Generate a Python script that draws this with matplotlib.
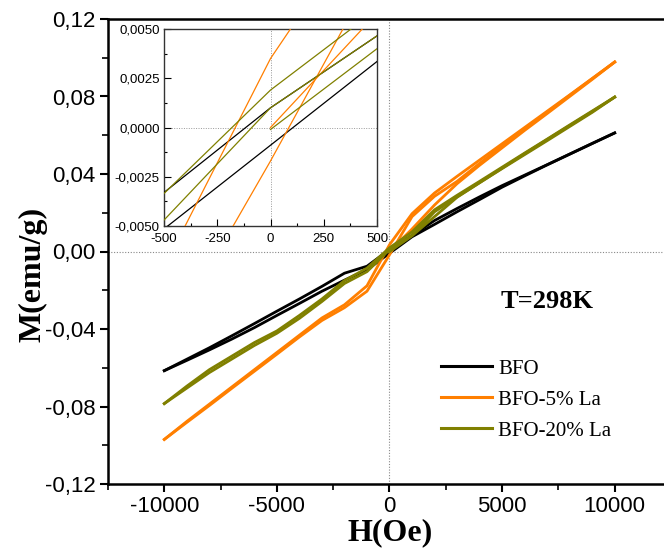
import matplotlib
matplotlib.use("Agg")
import matplotlib.pyplot as plt
from matplotlib.ticker import FixedLocator, FuncFormatter
from matplotlib.lines import Line2D

plt.rcParams["axes.unicode_minus"] = False
plt.rcParams["font.family"] = ["Liberation Sans", "DejaVu Sans"]

# Applied field (Oe) for each branch of the M-H loop
field_down = [10000, 9000, 8000, 7000, 6000, 5000, 4000, 3000, 2000, 1000, 0,
              -1000, -2000, -3000, -4000, -5000, -6000, -7000, -8000, -9000, -10000]
field_up = [-10000, -9000, -8000, -7000, -6000, -5000, -4000, -3000, -2000, -1000, 0,
            1000, 2000, 3000, 4000, 5000, 6000, 7000, 8000, 9000, 10000]
field_virgin = [0, 1000, 2000, 3000, 4000, 5000, 6000, 7000, 8000, 9000, 10000]

# Magnetization (emu/g)
bfo_down = [0.0612, 0.0558, 0.0503, 0.0448, 0.0394, 0.0340, 0.0282, 0.0222, 0.0160, 0.0083, 0.0010,
            -0.0076, -0.0112, -0.0180, -0.0245, -0.0308, -0.0372, -0.0435, -0.0497, -0.0556, -0.0615]
bfo_up = [-0.0615, -0.0562, -0.0508, -0.0452, -0.0393, -0.0330, -0.0268, -0.0205, -0.0148, -0.0094, -0.0009,
          0.0076, 0.0140, 0.0205, 0.0268, 0.0332, 0.0390, 0.0447, 0.0502, 0.0557, 0.0612]

la5_down = [0.0978, 0.0893, 0.0808, 0.0724, 0.0640, 0.0556, 0.0472, 0.0388, 0.0302, 0.0195, 0.0035,
            -0.0177, -0.0275, -0.0343, -0.0432, -0.0521, -0.0610, -0.0699, -0.0788, -0.0877, -0.0970]
la5_up = [-0.0970, -0.0882, -0.0795, -0.0706, -0.0618, -0.0530, -0.0441, -0.0356, -0.0290, -0.0205, -0.0017,
          0.0180, 0.0285, 0.0362, 0.0455, 0.0545, 0.0632, 0.0718, 0.0806, 0.0892, 0.0978]
la5_virgin = [0.0, 0.0116, 0.0240, 0.0350, 0.0445, 0.0535, 0.0625, 0.0712, 0.0800, 0.0888, 0.0978]

la20_down = [0.0797, 0.0725, 0.0653, 0.0580, 0.0508, 0.0435, 0.0362, 0.0290, 0.0215, 0.0101, 0.0019,
             -0.0086, -0.0150, -0.0245, -0.0330, -0.0410, -0.0470, -0.0540, -0.0610, -0.0695, -0.0785]
la20_up = [-0.0785, -0.0705, -0.0625, -0.0555, -0.0485, -0.0422, -0.0345, -0.0258, -0.0165, -0.0104, 0.0010,
           0.0083, 0.0205, 0.0282, 0.0355, 0.0428, 0.0500, 0.0572, 0.0645, 0.0718, 0.0797]
la20_virgin = [-0.0001, 0.0081, 0.0180, 0.0280, 0.0355, 0.0430, 0.0505, 0.0578, 0.0650, 0.0722, 0.0797]

labels = ["BFO", "BFO-5% La", "BFO-20% La"]
colors = ["#000000", "#FF7F00", "#808000"]

main_xticks = [-10000, -5000, 0, 5000, 10000]
main_yticks = [-0.12, -0.08, -0.04, 0.0, 0.04, 0.08, 0.12]
inset_xticks = [-500, -250, 0, 250, 500]
inset_yticks = [-0.005, -0.0025, 0.0, 0.0025, 0.005]

series = [
    [(field_down, bfo_down), (field_up, bfo_up)],
    [(field_down, la5_down), (field_up, la5_up), (field_virgin, la5_virgin)],
    [(field_down, la20_down), (field_up, la20_up), (field_virgin, la20_virgin)],
]

W, H = 664, 549
fig = plt.figure(figsize=(W / 100, H / 100), dpi=100)


def box(l, t, r, b):
    return [l / W, 1 - b / H, (r - l) / W, (b - t) / H]


def comma(fmt):
    return FuncFormatter(lambda v, p: fmt.format(v).replace(".", ",").replace("\u2212", "-"))


# ---- main loop plot ----
ax = fig.add_axes(box(108, 19, 671, 484))
ax.set_xlim(-12500, 12500)
ax.set_ylim(-0.12, 0.12)
ax.axhline(0, color="#888888", lw=0.8, ls=(0, (1, 1.5)), zorder=1)
ax.axvline(0, color="#888888", lw=0.8, ls=(0, (1, 1.5)), zorder=1)
for branches, c in zip(series, colors):
    for h, m in branches:
        ax.plot(h, m, color=c, lw=2.0, solid_joinstyle="round", zorder=3)

for s in ["left", "bottom", "top"]:
    ax.spines[s].set_linewidth(1.8)
ax.spines["right"].set_visible(False)
ax.xaxis.set_major_locator(FixedLocator(main_xticks))
ax.xaxis.set_minor_locator(FixedLocator([-12500, -7500, -2500, 2500, 7500, 12500]))
ax.yaxis.set_major_locator(FixedLocator(main_yticks))
ax.yaxis.set_minor_locator(FixedLocator([-0.10, -0.06, -0.02, 0.02, 0.06, 0.10]))
ax.xaxis.set_major_formatter(comma("{:.0f}"))
ax.yaxis.set_major_formatter(comma("{:.2f}"))
ax.tick_params(which="major", direction="out", length=6, width=1.5, labelsize=16, pad=3)
ax.tick_params(which="minor", direction="out", length=4, width=1.2)
ax.tick_params(top=False, right=False)

ax.text(7000, -0.026, "T=298K", fontsize=19, fontweight="bold",
        family=["Liberation Serif"], ha="center", va="center")

handles = [Line2D([], [], color=c, lw=2.2) for c in colors]
ax.legend(handles, labels, loc="upper left", bbox_to_anchor=(441 / W, 1 - 359 / H),
          bbox_transform=fig.transFigure, frameon=False, borderpad=0, borderaxespad=0,
          handlelength=2.45, handletextpad=0.3, labelspacing=0.55,
          prop={"family": "Liberation Serif", "size": 15})

fig.text(33 / W, 1 - 274 / H, "M(emu/g)", rotation=90, ha="center", va="center",
         fontsize=23, fontweight="bold", family=["Liberation Serif"])
fig.text(390 / W, 1 - 533 / H, "H(Oe)", ha="center", va="center",
         fontsize=23, fontweight="bold", family=["Liberation Serif"])

# ---- inset: close-up around the origin ----
ins = fig.add_axes(box(164, 29, 377, 226))
ins.set_facecolor("white")
ins.set_xlim(-500, 500)
ins.set_ylim(-0.005, 0.005)
ins.axhline(0, color="#999999", lw=0.7, ls=(0, (1, 1.5)), zorder=1)
ins.axvline(0, color="#999999", lw=0.7, ls=(0, (1, 1.5)), zorder=1)
for branches, c in zip(series, colors):
    for h, m in branches:
        ins.plot(h, m, color=c, lw=0.9, zorder=3)
for s in ins.spines.values():
    s.set_linewidth(1.0)
    s.set_color("#333333")
ins.xaxis.set_major_locator(FixedLocator(inset_xticks))
ins.xaxis.set_minor_locator(FixedLocator([-375, -125, 125, 375]))
ins.yaxis.set_major_locator(FixedLocator(inset_yticks))
ins.yaxis.set_minor_locator(FixedLocator([-0.00375, -0.00125, 0.00125, 0.00375]))
ins.xaxis.set_major_formatter(comma("{:.0f}"))
ins.yaxis.set_major_formatter(comma("{:.4f}"))
ins.tick_params(which="major", direction="in", length=5, width=0.8, labelsize=9.5, pad=3)
ins.tick_params(axis="x", which="major", pad=5)
ins.tick_params(which="minor", direction="in", length=2.5, width=0.8)

fig.savefig("out.png", dpi=100)
